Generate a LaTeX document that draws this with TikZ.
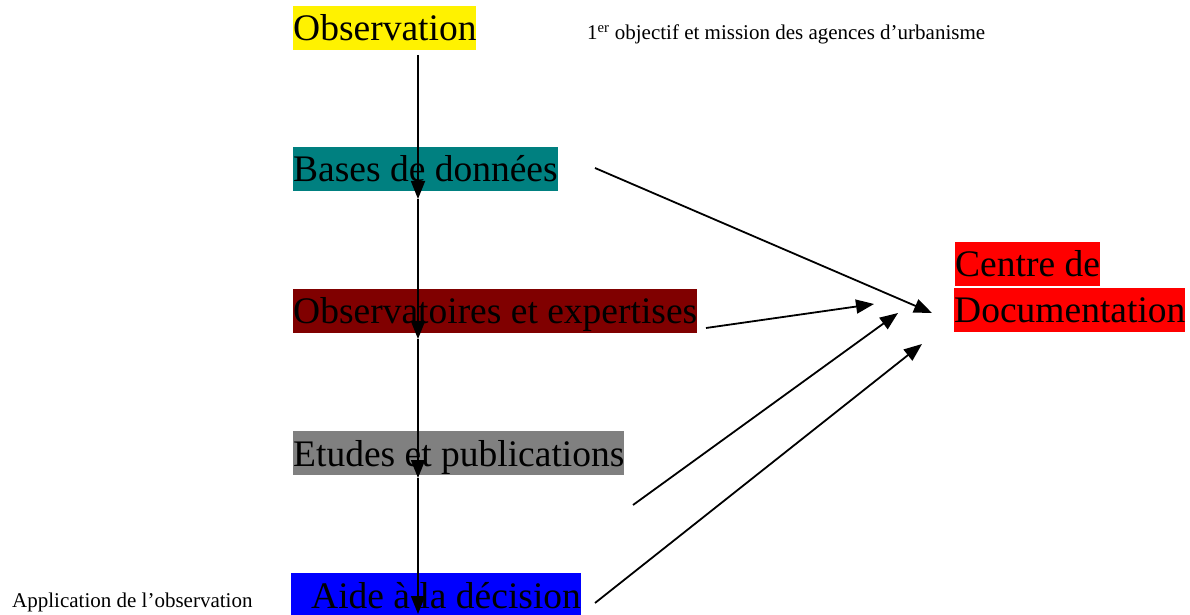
\documentclass[tikz,border=0pt]{standalone}
\usepackage{fontspec}
\setmainfont{Liberation Serif}
\usetikzlibrary{arrows.meta}

\definecolor{marron}{RGB}{128,0,0}

\begin{document}
\begin{tikzpicture}[x=1bp, y=-1bp,
	surligne/.style={anchor=base west, inner xsep=0pt, inner ysep=0pt,
		text height=35bp, text depth=9bp, font=\fontsize{37.5bp}{44bp}\selectfont},
	petit/.style={anchor=base west, inner sep=0pt, font=\fontsize{21bp}{25bp}\selectfont},
	fleche/.style={line width=1.8bp, -{Triangle[length=18bp, width=14bp]}}]

\useasboundingbox (0, 0) rectangle (1190, 615); % page size

% chain of boxes
	\node[surligne, fill=yellow] (obs) at (293, 41) {Observation};
	\node[surligne, fill=teal] (bdd) at (293, 182) {Bases de données};
	\node[surligne, fill=marron] (oex) at (293, 324) {Observatoires et expertises};
	\node[surligne, fill=gray] (etu) at (293, 466) {Etudes et publications};
	\node[surligne, fill=blue] (aide) at (291, 608) {\hspace*{20bp}Aide à la décision};

	% centre de documentation
	\node[surligne, fill=red] (cdoc1) at (955, 277) {Centre de};
	\node[surligne, fill=red] (cdoc2) at (954, 323) {Documentation};

	% side notes
	\node[petit] (obj) at (587, 40) {1\textsuperscript{er} objectif et mission des agences d’urbanisme};
	\node[petit] (appl) at (12, 607) {Application de l’observation};

% vertical chain
	\coordinate (v0) at (418, 55);
	\coordinate (v1) at (418, 199);
	\coordinate (v2) at (418, 339);
	\coordinate (v3) at (418, 478);
	\coordinate (v4) at (418, 614);
	\draw[fleche] (v0) -- (v1);
	\draw[fleche] (v1) -- (v2);
	\draw[fleche] (v2) -- (v3);
	\draw[fleche] (v3) -- (v4);

% arrows to the documentation centre
	\coordinate (d1) at (595, 168);
	\coordinate (d2) at (706, 328);
	\coordinate (d3) at (633, 505);
	\coordinate (d4) at (595, 603);
	\coordinate (t1) at (932, 313);
	\coordinate (t2) at (874, 304);
	\coordinate (t3) at (898, 313);
	\coordinate (t4) at (922, 344);
	\draw[fleche] (d1) -- (t1);
	\draw[fleche] (d2) -- (t2);
	\draw[fleche] (d3) -- (t3);
	\draw[fleche] (d4) -- (t4);

\end{tikzpicture}
\end{document}
